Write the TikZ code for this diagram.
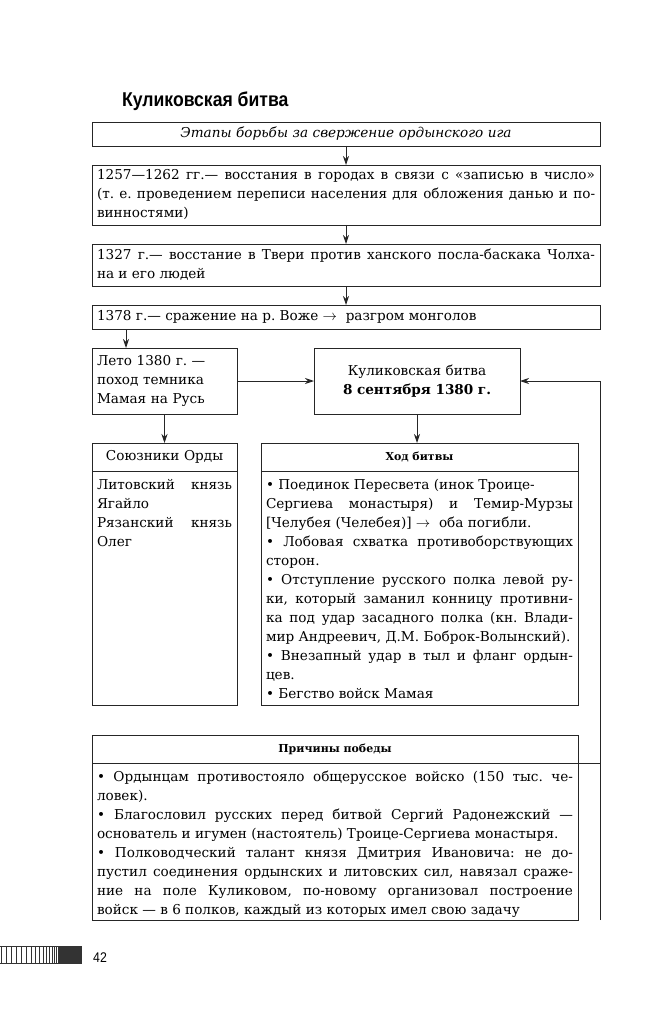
\documentclass[tikz,border=0pt]{standalone}
\usepackage{fontspec}
\setmainfont{DejaVu Serif}
\newfontfamily\headfont{Liberation Sans}[FakeStretch=0.88]
\usepackage{tikz}
\usetikzlibrary{positioning}
\usetikzlibrary{arrows.meta}
\frenchspacing

\begin{document}
\begin{tikzpicture}[
    x=1pt, y=-1pt,
    font=\fontsize{13.6}{19}\selectfont,
    box/.style={draw=black!85, line width=0.9pt, rectangle, outer sep=0pt,
                inner xsep=5pt, inner ysep=2pt, align=justify},
    wide/.style={box, text width=498pt},
    head/.style={box, align=center, minimum height=28pt,
                 font=\fontsize{11}{14}\selectfont\bfseries},
    link/.style={->, draw=black!85, line width=0.9pt},
    >={Stealth[length=9pt, width=6pt]}
  ]
    \useasboundingbox (0,0) rectangle (660,1024);

    % Заголовок
    \node[anchor=base west, inner sep=0pt, font=\headfont\bfseries\fontsize{20}{24}\selectfont] (title) at (122,107) {Куликовская битва};

    % Колонна этапов
    \node[wide, anchor=north west, align=center, minimum height=24pt,
          font=\fontsize{13.6}{19}\selectfont\itshape] (etapy) at (92,122) {Этапы борьбы за свержение ордынского ига};
    \node[wide, below=19pt of etapy, minimum height=60pt] (b1257) {1257—1262 гг.— восстания в городах в связи с «записью в~число»\linebreak
      (т.~е. проведением переписи населения для обложения данью и~по-\linebreak винностями)};
    \node[wide, below=19pt of b1257, minimum height=42pt] (b1327) {1327 г.— восстание в Твери против ханского посла-баскака Чолха-\linebreak на и его людей};
    \node[wide, below=19pt of b1327, minimum height=24pt] (b1378) {1378 г.— сражение на р. Воже $\rightarrow$~ разгром монголов};

    % Поход Мамая и битва
    \node[box, below=19pt of b1378.south west, anchor=north west, text width=135pt,
          minimum height=66pt, align=left] (leto) {Лето 1380 г. —\\ поход темника\\ Мамая на Русь};
    \node[box, right=77pt of leto, text width=196pt, minimum height=66pt, align=center] (kulik) {Куликовская битва\\ \textbf{8 сентября 1380 г.}};

    % Союзники Орды
    \node[head, below=29pt of leto, text width=135pt, font=\fontsize{13.6}{19}\selectfont] (soyuzH) {Союзники Орды};
    \node[box, below=0pt of soyuzH, text width=135pt, text height=16pt, text depth=214pt] (soyuz) {Литовский князь\linebreak
      Ягайло\\
      Рязанский князь\linebreak
      Олег};

    % Ход битвы
    \node[head, right=24pt of soyuzH, text width=307pt] (hodH) {Ход битвы};
    \node[box, below=0pt of hodH, text width=307pt, text height=16pt, text depth=214pt] (hod) {• Поединок Пересвета (инок Троице-\\
      Сергиева монастыря) и Темир-Мурзы\linebreak{}[Челубея (Челебея)]~$\rightarrow$~ оба погибли.\\
      • Лобовая схватка противоборствующих\linebreak сторон.\\
      • Отступление русского полка левой ру-\linebreak
      ки, который заманил конницу противни-\linebreak
      ка под удар засадного полка (кн. Влади-\linebreak
      мир Андреевич, Д.М. Боброк-Волынский).\\
      • Внезапный удар в тыл и фланг ордын-\linebreak цев.\\
      • Бегство войск Мамая};

    % Причины победы
    \node[head, below=30pt of soyuz.south west, anchor=north west, text width=476pt] (prichH) {Причины победы};
    \node[box, below=0pt of prichH, text width=476pt, text height=16pt, text depth=137pt] (prich) {• Ордынцам противостояло общерусское войско (150 тыс. че-\linebreak
      ловек).\\
      • Благословил русских перед битвой Сергий Радонежский —\linebreak
      основатель и игумен (настоятель) Троице-Сергиева монастыря.\\
      • Полководческий талант князя Дмитрия Ивановича: не до-\linebreak
      пустил соединения ордынских и литовских сил, навязал сраже-\linebreak
      ние на поле Куликовом, по-новому организовал построение\linebreak
      войск — в 6 полков, каждый из которых имел свою задачу};

    % Стрелки
    \draw[link] (etapy) -- (b1257);
    \draw[link] (b1257) -- (b1327);
    \draw[link] (b1327) -- (b1378);
    \draw[link] ([xshift=34pt]b1378.south west) -- ([xshift=34pt]leto.north west);
    \draw[link] (leto) -- (kulik);
    \draw[link] (leto) -- (soyuzH);
    \draw[link] (kulik) -- (kulik |- hodH.north);
    \draw[draw=black!85, line width=0.9pt] (prichH.south east) -- (prichH.south -| b1378.east);
    \draw[link] (prich.south -| b1378.east) |- (kulik.east);

    % Полоска с номером страницы
    \foreach \xb in {1,6,11,16,21,26,31,35,39,43,46,49,52,54,56}
      \fill[black!80] (\xb,946) rectangle ++(1.2,17);
    \fill[black!80] (58,946) rectangle (82,963);
    \draw[black!80, line width=0.6pt] (0,946) -- (82,946) (0,963) -- (82,963);
    \node[anchor=base west, inner sep=0pt, font=\headfont\fontsize{14}{16}\selectfont] (pagenum) at (93,962) {42};
\end{tikzpicture}
\end{document}
